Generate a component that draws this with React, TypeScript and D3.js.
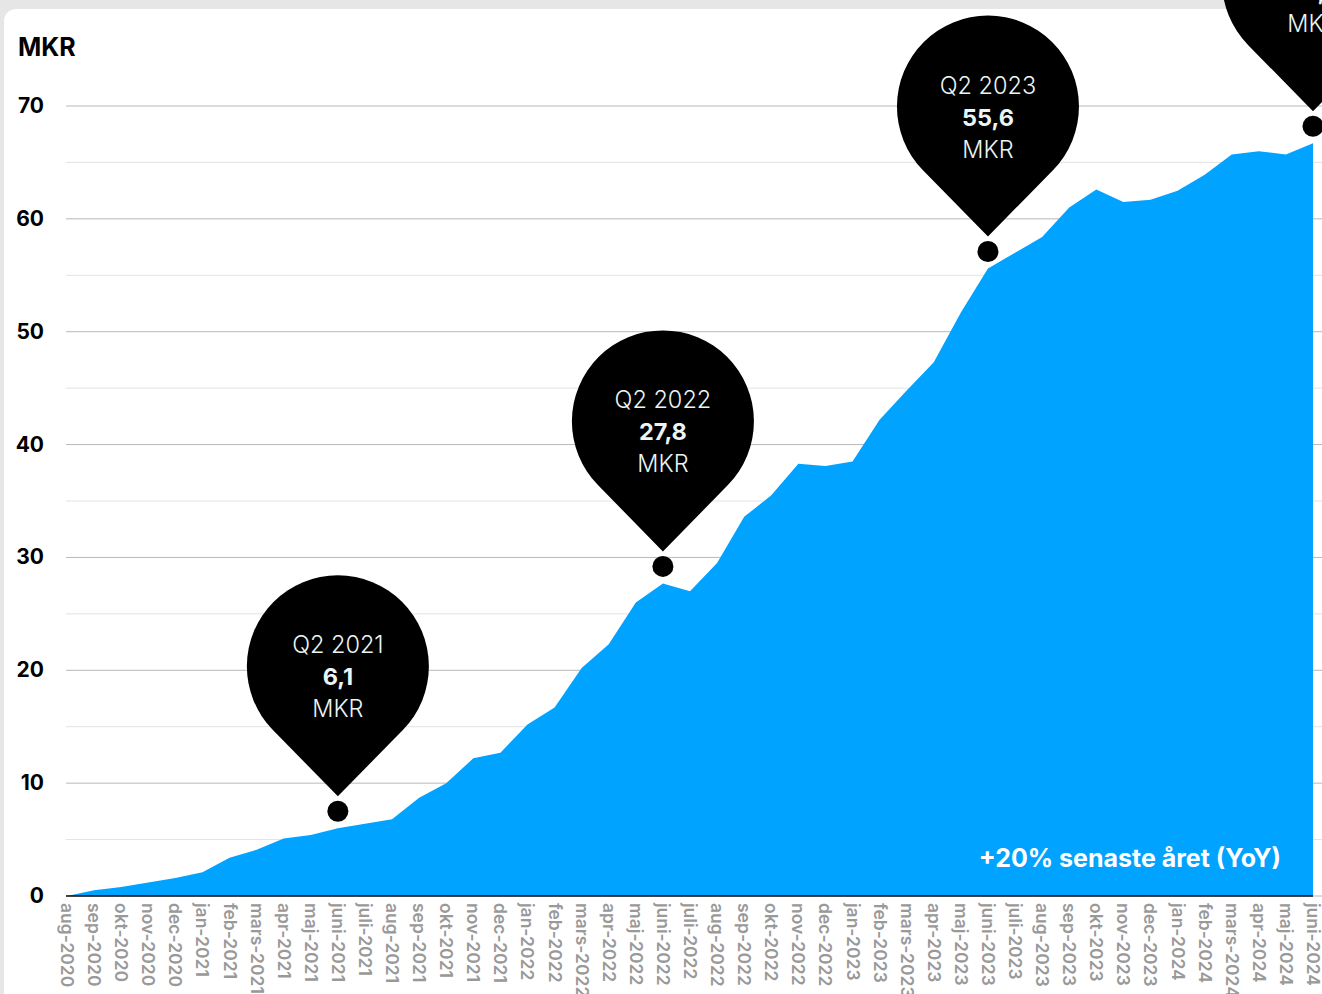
import React from "react";
import * as d3 from "d3";

const months = [
  "aug-2020","sep-2020","okt-2020","nov-2020","dec-2020",
  "jan-2021","feb-2021","mars-2021","apr-2021","maj-2021","juni-2021","juli-2021","aug-2021","sep-2021","okt-2021","nov-2021","dec-2021",
  "jan-2022","feb-2022","mars-2022","apr-2022","maj-2022","juni-2022","juli-2022","aug-2022","sep-2022","okt-2022","nov-2022","dec-2022",
  "jan-2023","feb-2023","mars-2023","apr-2023","maj-2023","juni-2023","juli-2023","aug-2023","sep-2023","okt-2023","nov-2023","dec-2023",
  "jan-2024","feb-2024","mars-2024","apr-2024","maj-2024","juni-2024",
];

const values = [
  0, 0.5, 0.8, 1.2, 1.6,
  2.1, 3.4, 4.1, 5.1, 5.4, 6.0, 6.4, 6.8, 8.7, 10.0, 12.2, 12.7,
  15.2, 16.7, 20.2, 22.3, 26.0, 27.7, 27.0, 29.5, 33.6, 35.5, 38.3, 38.1,
  38.5, 42.2, 44.8, 47.3, 51.7, 55.6, 57.0, 58.4, 61.0, 62.6, 61.5, 61.7,
  62.5, 63.9, 65.7, 66.0, 65.7, 66.7,
];

const yTicks = [0, 10, 20, 30, 40, 50, 60, 70];
const yMinorTicks = [5, 15, 25, 35, 45, 55, 65];

const pinMonths = ["juni-2021", "juni-2022", "juni-2023", "juni-2024"];
const pinQuarters = ["Q2 2021", "Q2 2022", "Q2 2023", "Q2 2024"];
const pinValues = ["6,1", "27,8", "55,6", "66,7"];

const unitLabel = "MKR";
const yoyLabel = "+20% senaste året (YoY)";

const W = 1322;
const H = 994;
const FONT = "Inter, 'Open Sans', sans-serif";

export default function App() {
  const x = d3.scalePoint<string>().domain(months).range([67, 1313]);
  const y = d3.scaleLinear().domain([0, 70]).range([896, 106]);

  const area = d3
    .area<number>()
    .x((_, i) => x(months[i]) as number)
    .y0(y(0))
    .y1((d) => y(d))
    .curve(d3.curveLinear);

  const pinR = 91;
  const tipToCenter = 130;
  const dotR = 10.5;
  const pinPath = (cx: number, tipY: number) => {
    const cy = tipY - tipToCenter;
    const a = Math.acos(pinR / tipToCenter);
    const px = pinR * Math.sin(a);
    const py = pinR * Math.cos(a);
    return `M${cx},${tipY} L${cx + px},${cy + py} A${pinR},${pinR} 0 1 0 ${cx - px},${cy + py} Z`;
  };

  return (
    <svg
      width={W}
      height={H}
      style={{ position: "absolute", left: 0, top: 0, display: "block" }}
      fontFamily={FONT}
    >
      <rect x={0} y={0} width={W} height={H} fill="#e6e6e6" />
      <rect x={4} y={9} width={W + 40} height={H + 40} rx={12} fill="#ffffff" />

      {yMinorTicks.map((t) => (
        <line key={"m" + t} x1={66} x2={W} y1={y(t)} y2={y(t)} stroke="#e3e3e3" strokeWidth={1} />
      ))}
      {yTicks.map((t) => (
        <line key={"g" + t} x1={66} x2={W} y1={y(t)} y2={y(t)} stroke="#b8b8b8" strokeWidth={1} />
      ))}

      <path d={area(values) as string} fill="#00a3ff" />
      <line x1={66} x2={x(months[months.length - 1]) as number} y1={y(0)} y2={y(0)} stroke="#111" strokeWidth={1.5} />

      <text x={18} y={56} fontSize={25} fontWeight={700} fill="#000">{unitLabel}</text>
      {yTicks.map((t) => (
        <text key={"yl" + t} x={44} y={y(t) + 7} fontSize={21} fontWeight={700} fill="#000" textAnchor="end">
          {t}
        </text>
      ))}

      {months.map((m) => (
        <text
          key={m}
          transform={`translate(${(x(m) as number) - 6},903) rotate(90)`}
          fontSize={17.5}
          fontWeight={600}
          fill="#999999"
          textAnchor="start"
        >
          {m}
        </text>
      ))}

      <text x={1281} y={867} fontSize={25} fontWeight={700} fill="#ffffff" textAnchor="end">
        {yoyLabel}
      </text>

      {pinMonths.map((m, i) => {
        const cx = x(m) as number;
        const v = values[months.indexOf(m)];
        const dotY = y(v) - 17;
        const tipY = dotY - 15;
        const cy = tipY - tipToCenter;
        return (
          <g key={"pin" + m}>
            <path d={pinPath(cx, tipY)} fill="#000" />
            <circle cx={cx} cy={dotY} r={dotR} fill="#000" />
            <text x={cx} y={cy - 13} fontSize={23.5} fontWeight={300} fill="#eaf5f5" textAnchor="middle">
              {pinQuarters[i]}
            </text>
            <text x={cx} y={cy + 19} fontSize={23.5} fontWeight={700} fill="#eaf5f5" textAnchor="middle">
              {pinValues[i]}
            </text>
            <text x={cx} y={cy + 51} fontSize={23.5} fontWeight={300} fill="#eaf5f5" textAnchor="middle">
              {unitLabel}
            </text>
          </g>
        );
      })}
    </svg>
  );
}
